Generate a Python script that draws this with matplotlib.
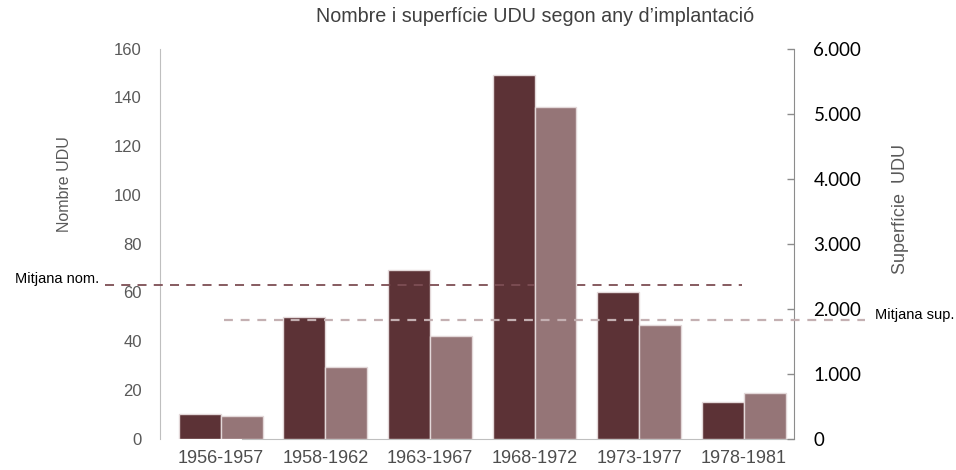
import matplotlib.pyplot as plt
import matplotlib.transforms as mtransforms
import numpy as np

plt.rcParams['font.family'] = ['Liberation Sans', 'DejaVu Sans']

# Data
periods = ['1956-1957', '1958-1962', '1963-1967', '1968-1972', '1973-1977', '1978-1981']
nombre_udu = [10, 50, 69, 149, 60, 15]
superficie_udu = [350, 1100, 1580, 5100, 1750, 700]
mitjana_nom = 63
mitjana_sup = 1820
left_ticks = [0, 20, 40, 60, 80, 100, 120, 140, 160]
right_ticks = [0, 1000, 2000, 3000, 4000, 5000, 6000]
right_labels = ['0', '1.000', '2.000', '3.000', '4.000', '5.000', '6.000']

dark = '#5c3236'
light = '#957577'
edge = '#e3d8d9'
gray_txt = '#595959'

fig = plt.figure(figsize=(9.56, 4.70), dpi=100)
ax = fig.add_axes([0.1674, 0.067, 0.6631, 0.8298])
ax2 = ax.twinx()

x = np.arange(len(periods))
w = 0.40
ax.bar(x - 0.2, nombre_udu, width=w, color=dark, edgecolor=edge, linewidth=1, zorder=3)
ax2.bar(x + 0.2, superficie_udu, width=w, color=light, edgecolor=edge, linewidth=1, zorder=3)

ax.set_xlim(-0.58, 5.48)
ax.set_ylim(0, 160)
ax2.set_ylim(0, 6000)

# left axis
ax.set_yticks(left_ticks)
ax.tick_params(axis='y', length=0, pad=13, labelsize=12, labelcolor=gray_txt)
ax.set_xticks(x)
ax.set_xticklabels(periods)
ax.tick_params(axis='x', length=0, pad=8, labelsize=13, labelcolor='#4d4d4d')
ax.set_ylabel('Nombre UDU', fontsize=11.5, color=gray_txt)
ax.yaxis.set_label_coords(-0.139, 0.652)

# right axis
ax2.set_yticks(right_ticks)
ax2.set_yticklabels(right_labels, family=['Lato', 'DejaVu Sans'])
ax2.tick_params(axis='y', direction='in', length=5, width=1, color='#8c8c8c',
                pad=14, labelsize=13.5, labelcolor='black')
ax2.set_ylabel('Superfície  UDU', fontsize=13, color=gray_txt)
ax2.yaxis.set_label_coords(1.1546, 0.588)

for a in (ax, ax2):
    a.spines['top'].set_visible(False)
    a.patch.set_visible(False)
ax2.spines['left'].set_visible(False)
ax2.spines['bottom'].set_visible(False)
ax.spines['right'].set_visible(False)
ax.spines['left'].set_color('#bfbfbf')
ax.spines['bottom'].set_color('#bfbfbf')
ax.spines['bottom'].set_bounds(0.2, 5.48)
ax2.spines['right'].set_color('#8c8c8c')

# mean lines, extending past the plot area
ax.axhline(mitjana_nom, xmin=-0.087, xmax=0.918, color='#7d4e54', lw=1.3,
           ls=(0, (5, 4)), clip_on=False, zorder=4)
ax2.axhline(mitjana_sup, xmin=0.101, xmax=1.112, color='#c4b0b2', lw=1.6,
            ls=(0, (4, 3.5)), clip_on=False, zorder=4)

t1 = mtransforms.blended_transform_factory(ax.transAxes, ax.transData)
ax.text(-0.229, 65.6, 'Mitjana nom.', transform=t1, ha='left', va='center',
        fontsize=10.5, color='black', clip_on=False)
t2 = mtransforms.blended_transform_factory(ax2.transAxes, ax2.transData)
ax2.text(1.128, 1900, 'Mitjana sup.', transform=t2, ha='left', va='center',
         fontsize=10.5, color='black', clip_on=False)

fig.text(0.56, 0.964, 'Nombre i superfície UDU segon any d\u2019implantació',
         ha='center', va='center', fontsize=14.2, color='#404040')

fig.savefig('out.png', dpi=100)
